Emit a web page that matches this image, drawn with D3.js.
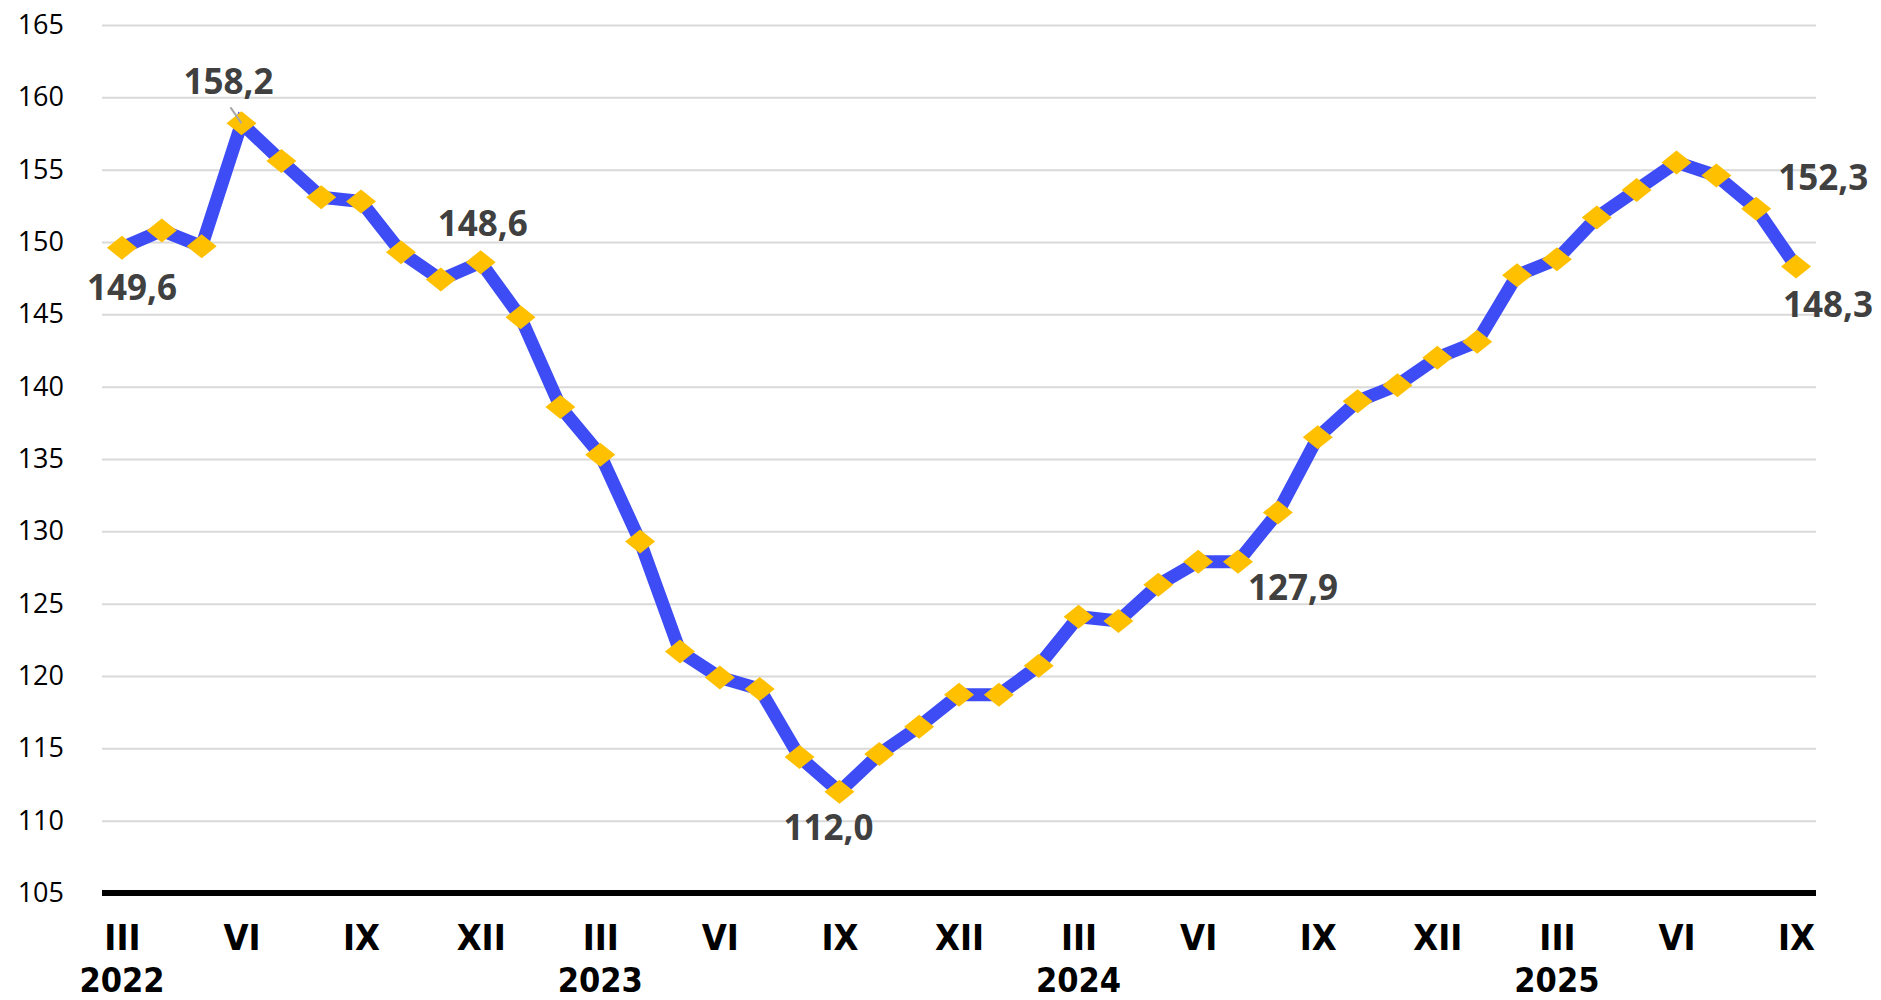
<!DOCTYPE html>
<html>
<head>
<meta charset="utf-8">
<script src="https://cdn.jsdelivr.net/npm/d3@7"></script>
<style>
    body { margin: 0; background: #fff; }
    svg { display: block; }
</style>
</head>
<body>
<svg width="1881" height="1000"></svg>
<script>
// Monthly values, March 2022 - September 2025
const months = ["2022-03", "2022-04", "2022-05", "2022-06", "2022-07", "2022-08", "2022-09", "2022-10", "2022-11", "2022-12",
    "2023-01", "2023-02", "2023-03", "2023-04", "2023-05", "2023-06", "2023-07", "2023-08", "2023-09", "2023-10", "2023-11", "2023-12",
    "2024-01", "2024-02", "2024-03", "2024-04", "2024-05", "2024-06", "2024-07", "2024-08", "2024-09", "2024-10", "2024-11", "2024-12",
    "2025-01", "2025-02", "2025-03", "2025-04", "2025-05", "2025-06", "2025-07", "2025-08", "2025-09"];

const values = [149.6, 150.8, 149.7, 158.2, 155.6, 153.1, 152.8, 149.3, 147.4, 148.6,
    144.8, 138.6, 135.3, 129.3, 121.7, 119.9, 119.1, 114.4, 112.0, 114.6, 116.5, 118.7,
    118.7, 120.7, 124.1, 123.8, 126.3, 127.9, 127.9, 131.3, 136.5, 139.0, 140.1, 142.0,
    143.1, 147.7, 148.8, 151.7, 153.6, 155.5, 154.6, 152.3, 148.3];

const yTicks = [105, 110, 115, 120, 125, 130, 135, 140, 145, 150, 155, 160, 165];

const romanLabels = { "03": "III", "06": "VI", "09": "IX", "12": "XII" };
const yearLabels = ["2022", "2023", "2024", "2025"];

// months that carry a value label
const labelled = ["2022-03", "2022-06", "2022-12", "2023-09", "2024-07", "2025-08", "2025-09"];

const data = months.map((m, i) => ({ month: m, value: values[i] }));

const margin = { top: 25, right: 65, bottom: 107, left: 102 },
    width = 1881 - margin.left - margin.right,
    height = 1000 - margin.top - margin.bottom;

const svg = d3.select("svg")
    .append("g")
    .attr("transform", `translate(${margin.left},${margin.top})`);

const x = d3.scalePoint()
    .domain(months)
    .range([0, width])
    .padding(0.5);

const y = d3.scaleLinear()
    .domain([105, 165])
    .range([height, 0]);

// gridlines + y labels
const yAxis = svg.append("g")
    .call(d3.axisLeft(y).tickValues(yTicks).tickSize(-width).tickPadding(38).tickFormat(d3.format("d")));
yAxis.select(".domain").remove();
yAxis.selectAll(".tick line")
    .attr("stroke", "#d9d9d9")
    .attr("stroke-width", 2);
yAxis.selectAll(".tick text")
    .attr("fill", "#000")
    .style("font-family", "'Open Sans', sans-serif")
    .style("font-size", "27px");

// thick baseline
svg.append("line")
    .attr("x1", 0)
    .attr("x2", width)
    .attr("y1", y(105))
    .attr("y2", y(105))
    .attr("stroke", "#000")
    .attr("stroke-width", 6);

const condensed = "'Liberation Sans Narrow', 'DejaVu Sans Condensed', sans-serif";

// x labels: roman months every quarter
const xAxis = svg.append("g")
    .attr("transform", `translate(0,${height})`)
    .call(d3.axisBottom(x)
        .tickValues(months.filter(m => romanLabels[m.slice(5)]))
        .tickSize(0)
        .tickPadding(31)
        .tickFormat(m => romanLabels[m.slice(5)]));
xAxis.select(".domain").remove();
xAxis.selectAll(".tick text")
    .attr("fill", "#000")
    .style("font-family", condensed)
    .style("font-weight", "bold")
    .style("font-size", "36px");

// years under March of each year
svg.selectAll(".year")
    .data(yearLabels)
    .join("text")
    .attr("class", "year")
    .attr("x", yr => x(yr + "-03"))
    .attr("y", height + 99)
    .attr("text-anchor", "middle")
    .style("font-family", condensed)
    .style("font-weight", "bold")
    .style("font-size", "34px")
    .text(yr => yr);

// line
const line = d3.line()
    .x(d => x(d.month))
    .y(d => y(d.value));

svg.append("path")
    .datum(data)
    .attr("fill", "none")
    .attr("stroke", "#3d4cf5")
    .attr("stroke-width", 13)
    .attr("stroke-linejoin", "miter")
    .attr("d", line);

// diamond markers
svg.selectAll(".marker")
    .data(data)
    .join("path")
    .attr("class", "marker")
    .attr("transform", d => `translate(${x(d.month)},${y(d.value)})`)
    .attr("d", "M0,-12L15,0L0,12L-15,0Z")
    .attr("fill", "#ffc000");

// value labels
const place = {
    "2022-03": [10, 52], "2022-06": [-13, -29], "2022-12": [2, -26], "2023-09": [-11, 48],
    "2024-07": [55, 38], "2025-08": [67, -19], "2025-09": [32, 50]
};
const fmt = v => d3.format(".1f")(v).replace(".", ",");

// leader line for the June 2022 peak
const peak = data.find(d => d.month === "2022-06");
svg.append("line")
    .attr("x1", x(peak.month) - 11)
    .attr("y1", y(peak.value) - 16)
    .attr("x2", x(peak.month))
    .attr("y2", y(peak.value))
    .attr("stroke", "#a6a6a6")
    .attr("stroke-width", 2);

svg.selectAll(".vlabel")
    .data(data.filter(d => labelled.includes(d.month)))
    .join("text")
    .attr("class", "vlabel")
    .attr("x", d => x(d.month) + place[d.month][0])
    .attr("y", d => y(d.value) + place[d.month][1])
    .attr("text-anchor", "middle")
    .attr("fill", "#404040")
    .style("font-family", "'Open Sans', sans-serif")
    .style("font-weight", "bold")
    .style("font-size", "35px")
    .text(d => fmt(d.value));
</script>
</body>
</html>
